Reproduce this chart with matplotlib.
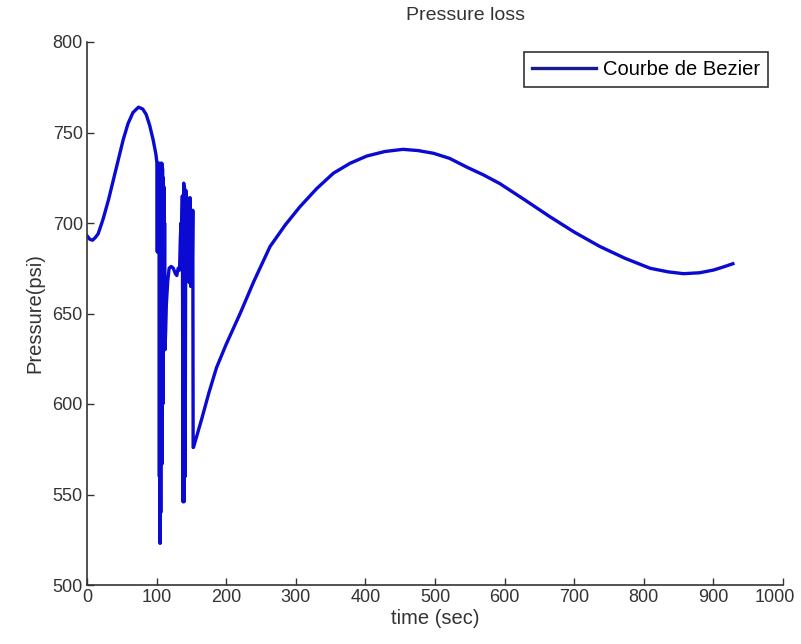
import numpy as np
import matplotlib.pyplot as plt
from matplotlib.transforms import ScaledTranslation

plt.rcParams['font.family'] = ['Liberation Sans', 'DejaVu Sans']

# smooth part before the oscillations
x_start = [0, 4, 8, 12, 16, 23, 31, 38, 45, 52, 59, 66, 74, 80, 85, 90, 95, 99, 100.5]
y_start = [693, 691, 690.5, 692, 694, 702, 713, 724, 735, 746, 755, 761, 764, 763, 760, 754, 746, 738, 733]

# oscillating part
x_osc = [101, 101.5, 102, 102.5, 103, 103.5, 104, 104.5, 105, 105.5, 106, 106.5, 107,
         107.5, 108, 108.5, 109, 109.5, 110, 110.5, 111, 111.5, 112, 113, 114, 116,
         118, 121, 124, 127, 129, 131, 133, 134, 135, 136, 137, 138, 139, 139.5, 140,
         141, 142, 143, 144, 145, 146, 147, 148, 149, 150, 151, 152, 152.5]
y_osc = [684, 733, 690, 733, 684, 730, 560, 733, 523, 700, 540, 733, 600, 733, 567,
         730, 600, 725, 630, 720, 640, 700, 630, 640, 655, 668,
         675, 676, 675, 672, 671, 675, 674, 690, 700, 695, 715, 546, 722, 546, 720,
         560, 718, 670, 714, 668, 712, 667, 714, 665, 707, 665, 707, 576]

# smooth recovery
x_end = [153, 165, 175, 186, 200, 220, 240, 263, 285, 306, 330, 354, 378, 402, 428, 454,
         476, 498, 521, 545, 570, 593, 630, 665, 700, 737, 773, 809, 835, 857, 880, 900,
         915, 928]
y_end = [576, 592, 606, 620, 633, 650, 668, 687, 699, 709, 719, 727.5, 733, 737, 739.5,
         740.7, 740, 738.5, 735.7, 731, 726.5, 721.8, 712.5, 703.5, 695, 687, 680.5, 675,
         673, 672, 672.5, 674, 675.8, 677.5]

t = np.array(x_start + x_osc + x_end)
p = np.array(y_start + y_osc + y_end)

fig = plt.figure(figsize=(8.01, 6.44), dpi=100)
ax = fig.add_axes([87 / 801, 59 / 644, 696 / 801, 543 / 644])

ax.plot(t, p, color='#0a0ad2', lw=2.4, label='Courbe de Bezier')

ax.set_xlim(0, 1000)
ax.set_ylim(500, 800)
ax.set_xticks(np.arange(0, 1001, 100))
ax.set_yticks(np.arange(500, 801, 50))
ax.tick_params(direction='in', length=5, width=1, labelsize=13, colors='#333333', pad=3)
for s in ['top', 'right']:
    ax.spines[s].set_visible(False)
for s in ['left', 'bottom']:
    ax.spines[s].set_color('#333333')
    ax.spines[s].set_linewidth(1.2)

# last x label sits a bit left so it stays inside the figure
fig.canvas.draw()
last = ax.get_xticklabels()[-1]
last.set_transform(last.get_transform() + ScaledTranslation(-8 / 100, 0, fig.dpi_scale_trans))

ax.set_xlabel('time (sec)', fontsize=14.5, color='#333333', labelpad=2)
ax.set_ylabel('Pressure(psi)', fontsize=14.5, color='#333333', labelpad=6)
ax.set_title('Pressure loss', fontsize=14, color='#333333', x=(465 - 87) / 696, pad=16)

leg = ax.legend(loc='upper right', bbox_to_anchor=(0.978, 0.982), fontsize=14.5,
                fancybox=False, framealpha=1, edgecolor='#333333',
                handlelength=3.2, handletextpad=0.3, borderpad=0.4, borderaxespad=0)
leg.get_frame().set_linewidth(1.2)
leg.get_lines()[0].set_color('#1a1a8c')

fig.savefig('out.png', dpi=100)
